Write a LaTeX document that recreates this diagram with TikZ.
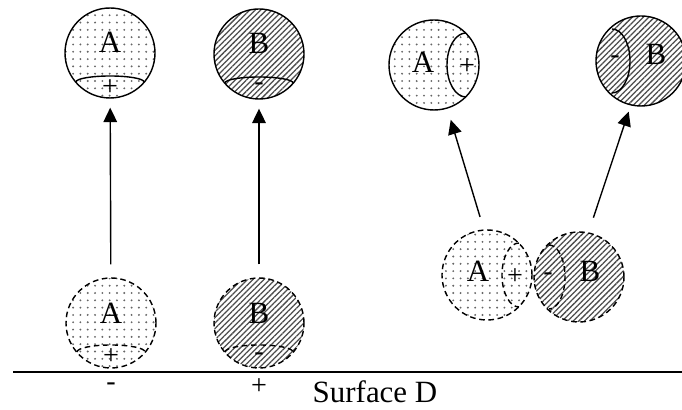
\documentclass[tikz,border=0pt]{standalone}
\usepackage{fontspec}
\setmainfont{Liberation Serif}
\usepackage{tikz}
\usetikzlibrary{arrows.meta,calc,patterns.meta}
\tikzset{
  >={Triangle[length=3.6mm,width=3.4mm]},
  ballA/.style={circle, draw=black, line width=1pt, minimum size=22.5mm, inner sep=0pt,
                pattern={Dots[distance=5.2pt,radius=0.75pt]}, pattern color=black!60},
  ballB/.style={circle, draw=black, line width=1pt, minimum size=22.5mm, inner sep=0pt,
                pattern={Lines[angle=45,distance=2.8pt,line width=0.9pt]}, pattern color=black!70},
  ghost/.style={dash pattern=on 4pt off 2.6pt},
  rim/.style={line width=1pt},
  lbl/.style={font=\fontsize{22}{26}\selectfont, inner sep=0pt},
  sgn/.style={font=\fontsize{20}{24}\selectfont, inner sep=0pt},
  move/.style={->, line width=1pt},
}
\begin{document}
\begin{tikzpicture}[x=0.25mm,y=0.25mm]
  \useasboundingbox (0,0) rectangle (682,410);

  % surface
  \draw[line width=1.2pt] (13,38) -- (682,38);
  \node[lbl] (surf) at (375,18) {Surface D};

  % balls on the surface
  \node[ballA, ghost] (bA) at (111,87) {};
  \node[ballB, ghost] (bB) at (259,87) {};
  \draw[rim, ghost] ([shift={(-34,-29)}]bA.center) arc[start angle=180, end angle=0, x radius=34, y radius=7];
  \draw[rim, ghost] ([shift={(-34,-29)}]bB.center) arc[start angle=180, end angle=0, x radius=34, y radius=7];
  \node[lbl] (bAl) at ($(bA)+(0,10)$) {A};
  \node[lbl] (bBl) at ($(bB)+(0,10)$) {B};
  \node[sgn] (bAs) at ($(bA)+(0,-34)$) {+};
  \node[sgn] (bBs) at ($(bB)+(0,-34)$) {-};
  \node[sgn] (dA) at (111,23) {-};
  \node[sgn] (dB) at (259,23) {+};

  % balls after leaving the surface
  \node[ballA] (tA) at (110,357) {};
  \node[ballB] (tB) at (259,356) {};
  \draw[rim] ([shift={(-34,-29)}]tA.center) arc[start angle=180, end angle=0, x radius=34, y radius=6];
  \draw[rim] ([shift={(-34,-29)}]tB.center) arc[start angle=180, end angle=0, x radius=34, y radius=6];
  \node[lbl] (tAl) at ($(tA)+(0,11)$) {A};
  \node[lbl] (tBl) at ($(tB)+(0,11)$) {B};
  \node[sgn] (tAs) at ($(tA)+(0,-35)$) {+};
  \node[sgn] (tBs) at ($(tB)+(0,-33)$) {-};

  \draw[move, shorten <=3.25mm, shorten >=2.25mm] (bA) -- (tA);
  \draw[move, shorten <=3.25mm, shorten >=2.25mm] (bB) -- (tB);

  % pair in contact
  \node[ballA, ghost] (pA) at (487,135) {};
  \node[ballB, ghost] (pB) at (579,133) {};
  \draw[rim, ghost] ([shift={(32,32)}]pA.center) arc[start angle=90, end angle=270, x radius=17, y radius=32];
  \draw[rim, ghost] ([shift={(-30,32)}]pB.center) arc[start angle=90, end angle=-90, x radius=16, y radius=32];
  \node[lbl] (pAl) at ($(pA)+(-9,4)$) {A};
  \node[lbl] (pBl) at ($(pB)+(11,6)$) {B};
  \node[sgn] (pAs) at ($(pA)+(28,-2)$) {+};
  \node[sgn] (pBs) at ($(pB)+(-31,0)$) {-};

  % pair separated
  \node[ballA] (rA) at (434,345) {};
  \node[ballB] (rB) at (641,349) {};
  \draw[rim] ([shift={(32,32)}]rA.center) arc[start angle=90, end angle=270, x radius=19, y radius=32];
  \draw[rim] ([shift={(-29,32)}]rB.center) arc[start angle=90, end angle=-90, x radius=18, y radius=32];
  \node[lbl] (rAl) at ($(rA)+(-11,3)$) {A};
  \node[lbl] (rBl) at ($(rB)+(15,7)$) {B};
  \node[sgn] (rAs) at ($(rA)+(33,-2)$) {+};
  \node[sgn] (rBs) at ($(rB)+(-26,1)$) {-};

  \draw[move, shorten <=3.25mm, shorten >=2.9mm] (pA.94) -- (rA.-73);
  \draw[move, shorten <=3.85mm, shorten >=1.6mm] (pB.78) -- (rB.-103);

\end{tikzpicture}
\end{document}
